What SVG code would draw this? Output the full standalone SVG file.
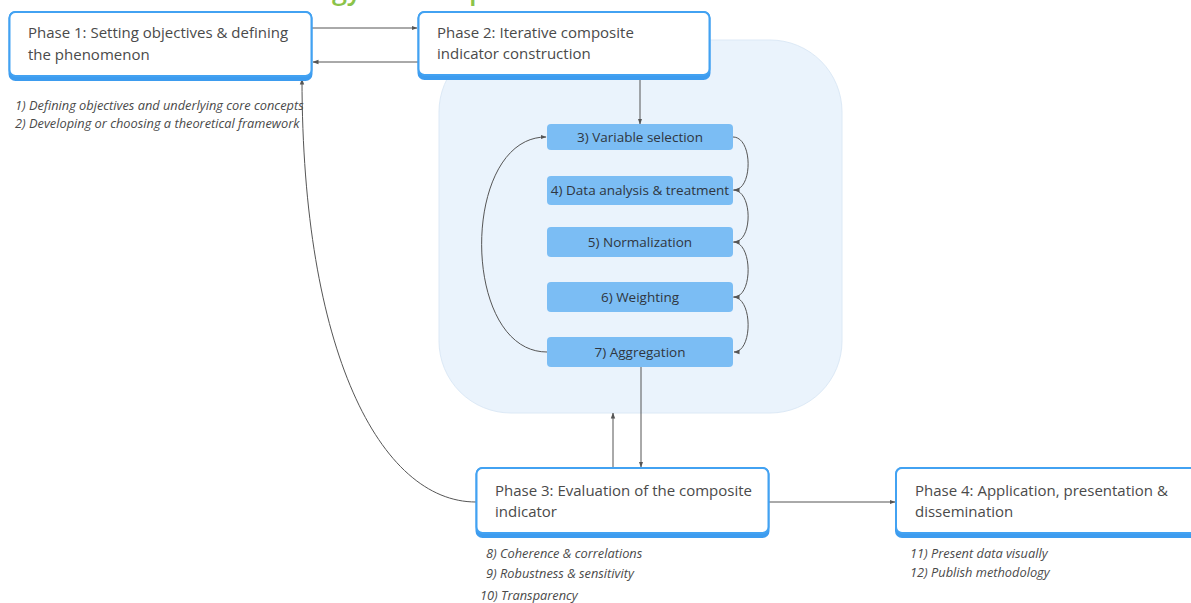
<svg xmlns="http://www.w3.org/2000/svg" width="1191" height="603" viewBox="0 0 1191 603">
  <defs>
    <marker id="arr" viewBox="0 0 6 6" refX="5.5" refY="3" markerWidth="6" markerHeight="6" markerUnits="userSpaceOnUse" orient="auto">
      <path d="M0,0.8 L6,3 L0,5.2 Z" fill="#555"/>
    </marker>
    <style>
      .band{fill:#3d9cef;}
      .box{fill:#fff;stroke:#42a2f2;stroke-width:2;}
      .ptxt{font-family:"Open Sans","Liberation Sans",sans-serif;font-size:15px;fill:#4a4a4a;}
      .step{fill:#7bbdf4;}
      .stxt{font-family:"Open Sans","Liberation Sans",sans-serif;font-size:13.5px;fill:#2f3640;text-anchor:middle;}
      .note{font-family:"Open Sans","Liberation Sans",sans-serif;font-size:12.8px;font-style:italic;fill:#4a4a4a;}
      .con{fill:none;stroke:#555;stroke-width:1;}
    </style>
  </defs>
  <rect width="1191" height="603" fill="#fff"/>
  <text x="190" y="-1" font-family="'Open Sans','Liberation Sans',sans-serif" font-size="27" font-weight="600" fill="#8bc34a">Methodology for composite indicators</text>

  <g id="region">
    <rect x="439" y="40" width="403" height="373" rx="72" fill="#eaf3fc" stroke="#dce9f6" stroke-width="1"/>
  </g>

  <g id="connectors">
    <path class="con" d="M312,28 L417,28" marker-end="url(#arr)"/>
    <path class="con" d="M418,62 L313,62" marker-end="url(#arr)"/>
    <path class="con" d="M640,80 L640,124" marker-end="url(#arr)"/>
    <path class="con" d="M733,137 C753,137 753,190 734,190" marker-end="url(#arr)"/>
    <path class="con" d="M733,190 C753,190 753,242 734,242" marker-end="url(#arr)"/>
    <path class="con" d="M733,242 C753,242 753,297 734,297" marker-end="url(#arr)"/>
    <path class="con" d="M733,297 C753,297 753,352 734,352" marker-end="url(#arr)"/>
    <path class="con" d="M547,352 C460,352 460,137 546,137" marker-end="url(#arr)"/>
    <path class="con" d="M641,367 L641,467" marker-end="url(#arr)"/>
    <path class="con" d="M613,467 L613,413" marker-end="url(#arr)"/>
    <path class="con" d="M769,502 L895,502" marker-end="url(#arr)"/>
    <path class="con" d="M476,502 C380,502 302,350 302,79" marker-end="url(#arr)"/>
  </g>

  <g id="phase1">
    <rect class="band" x="8.5" y="11" width="304" height="70" rx="7"/>
    <rect class="box" x="9.5" y="12" width="302" height="64" rx="6"/>
    <text class="ptxt" x="28" y="38">Phase 1: Setting objectives &amp; defining</text>
    <text class="ptxt" x="28" y="60">the phenomenon</text>
    <text class="note" x="15" y="110">1) Defining objectives and underlying core concepts</text>
    <text class="note" x="15" y="128">2) Developing or choosing a theoretical framework</text>
  </g>

  <g id="phase2">
    <rect class="band" x="417.5" y="11" width="293" height="69" rx="7"/>
    <rect class="box" x="418.5" y="12" width="291" height="63" rx="6"/>
    <text class="ptxt" x="437" y="38">Phase 2: Iterative composite</text>
    <text class="ptxt" x="437" y="59">indicator construction</text>
  </g>

  <g id="step3"><rect class="step" x="547" y="124" width="186" height="26" rx="4"/><text class="stxt" x="640" y="142">3) Variable selection</text></g>
  <g id="step4"><rect class="step" x="547" y="176" width="186" height="29" rx="4"/><text class="stxt" x="640" y="195">4) Data analysis &amp; treatment</text></g>
  <g id="step5"><rect class="step" x="547" y="227" width="186" height="30" rx="4"/><text class="stxt" x="640" y="247">5) Normalization</text></g>
  <g id="step6"><rect class="step" x="547" y="282" width="186" height="30" rx="4"/><text class="stxt" x="640" y="302">6) Weighting</text></g>
  <g id="step7"><rect class="step" x="547" y="337" width="186" height="30" rx="4"/><text class="stxt" x="640" y="357">7) Aggregation</text></g>

  <g id="phase3">
    <rect class="band" x="475.5" y="467" width="294" height="71" rx="7"/>
    <rect class="box" x="476.5" y="468" width="292" height="65" rx="6"/>
    <text class="ptxt" x="495" y="496">Phase 3: Evaluation of the composite</text>
    <text class="ptxt" x="495" y="517">indicator</text>
    <text class="note" x="486" y="558">8) Coherence &amp; correlations</text>
    <text class="note" x="486" y="578">9) Robustness &amp; sensitivity</text>
    <text class="note" x="480" y="600">10) Transparency</text>
  </g>

  <g id="phase4">
    <rect class="band" x="895" y="467" width="310" height="71" rx="7"/>
    <rect class="box" x="896" y="468" width="308" height="65" rx="6"/>
    <text class="ptxt" x="915" y="496">Phase 4: Application, presentation &amp;</text>
    <text class="ptxt" x="915" y="517">dissemination</text>
    <text class="note" x="910" y="558">11) Present data visually</text>
    <text class="note" x="910" y="577">12) Publish methodology</text>
  </g>
</svg>
